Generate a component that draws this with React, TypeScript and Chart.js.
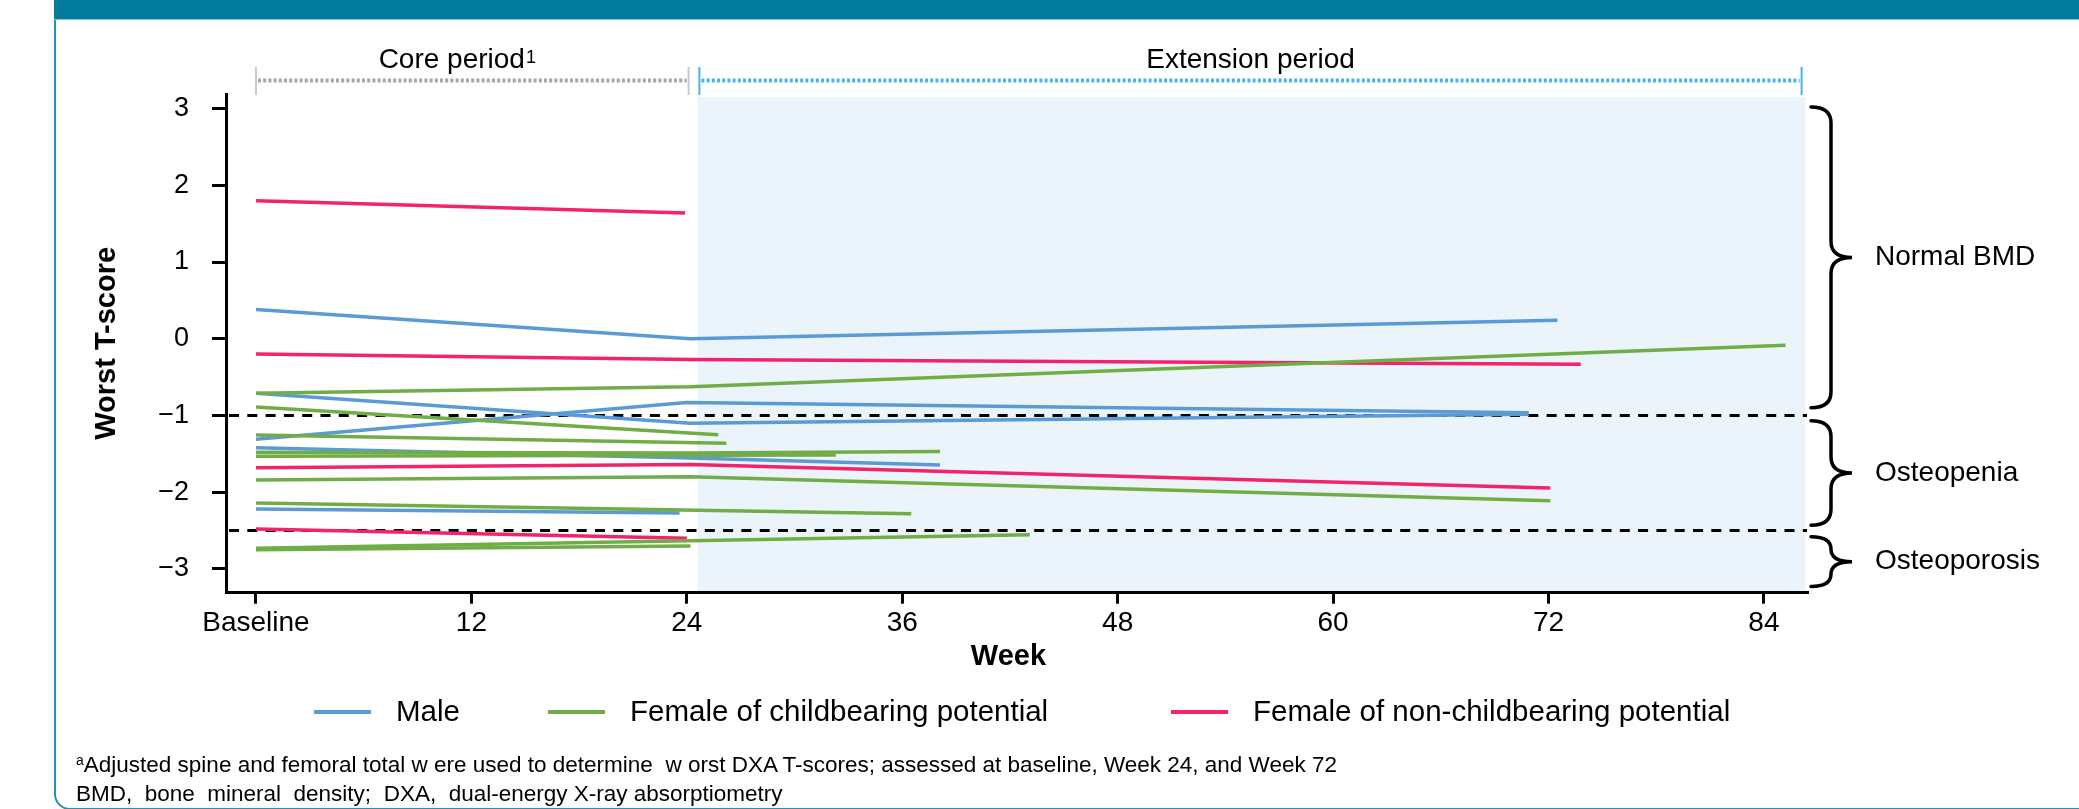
import React, { useEffect, useRef } from 'react';
import { Chart, registerables } from 'chart.js';

Chart.register(...registerables);

// ---------- data ----------
const groupLabels = ['Male', 'Female of childbearing potential', 'Female of non-childbearing potential'];
const groupColors = ['#5B9BD5', '#70AD47', '#F2236A'];

const maleWeeks = [[0, 24.2, 72.5], [0, 24.2, 70.9], [0, 24.0, 70.9], [0, 24.2, 38.1], [0, 23.6]];
const maleScores = [[0.38, 0.0, 0.24], [-0.71, -1.1, -0.985], [-1.31, -0.83, -0.965], [-1.42, -1.555, -1.645], [-2.22, -2.27]];

const childbearingWeeks = [
  [0, 24.2, 85.2], [0, 25.75], [0, 26.2], [0, 24.2, 38.1], [0, 32.3],
  [0, 24.2, 72.1], [0, 36.5], [0, 24.2], [0, 24.2, 43.1],
];
const childbearingScores = [
  [-0.71, -0.625, -0.085], [-0.89, -1.25], [-1.254, -1.363], [-1.48, -1.49, -1.47], [-1.53, -1.515],
  [-1.84, -1.8, -2.113], [-2.14, -2.28], [-2.75, -2.7], [-2.73, -2.634, -2.556],
];

const nonChildbearingWeeks = [[0, 23.9], [0, 24.2, 73.8], [0, 24.2, 72.1], [0, 24.0]];
const nonChildbearingScores = [[1.8, 1.64], [-0.2, -0.27, -0.333], [-1.68, -1.64, -1.944], [-2.48, -2.6]];

const xTickValues = [0, 12, 24, 36, 48, 60, 72, 84];
const xTickLabels = ['Baseline', '12', '24', '36', '48', '60', '72', '84'];
const yTickValues = [-3, -2, -1, 0, 1, 2, 3];
const yTickLabels = ['\u22123', '\u22122', '\u22121', '0', '1', '2', '3'];

const thresholds = [-1, -2.5];
const periodLabels = ['Core period', 'Extension period'];
const periodStarts = [0, 24.7];
const periodEnds = [24.1, 86.1];
const extensionShadeWeeks = [24.6, 86.3];
const extensionShadeTop = 3.15;
const categoryLabels = ['Normal BMD', 'Osteopenia', 'Osteoporosis'];
const categoryTops = [3.02, -1.07, -2.58];
const categoryBottoms = [-0.9, -2.43, -3.23];

const FONT = '"Liberation Sans", Arial, sans-serif';

function drawBrace(ctx: CanvasRenderingContext2D, x0: number, xs: number, xt: number, top: number, bot: number) {
  const mid = (top + bot) / 2;
  const r = Math.min(16, (bot - top) / 4);
  ctx.beginPath();
  ctx.moveTo(x0, top);
  ctx.quadraticCurveTo(xs, top, xs, top + r);
  ctx.lineTo(xs, mid - r);
  ctx.quadraticCurveTo(xs, mid, xt, mid);
  ctx.quadraticCurveTo(xs, mid, xs, mid + r);
  ctx.lineTo(xs, bot - r);
  ctx.quadraticCurveTo(xs, bot, x0, bot);
  ctx.stroke();
}

const annotations = {
  id: 'annotations',
  beforeDraw(chart: any) {
    const { ctx, chartArea, scales } = chart;
    const x = scales.x, y = scales.y;
    ctx.save();
    ctx.fillStyle = '#EBF4FA';
    const x0 = x.getPixelForValue(extensionShadeWeeks[0]);
    const x1 = x.getPixelForValue(extensionShadeWeeks[1]);
    const y0 = y.getPixelForValue(extensionShadeTop);
    ctx.fillRect(x0, y0, x1 - x0, chartArea.bottom - y0);
    ctx.restore();
  },
  beforeDatasetsDraw(chart: any) {
    const { ctx, chartArea, scales } = chart;
    const y = scales.y;
    ctx.save();
    ctx.strokeStyle = '#000';
    ctx.lineWidth = 3;
    ctx.setLineDash([10, 8.3]);
    thresholds.forEach((t) => {
      const py = y.getPixelForValue(t);
      ctx.beginPath();
      ctx.moveTo(chartArea.left + 3, py);
      ctx.lineTo(chartArea.right, py);
      ctx.stroke();
    });
    ctx.restore();
  },
  afterDatasetsDraw(chart: any) {
    const { ctx, chartArea, scales } = chart;
    const x = scales.x, y = scales.y;
    ctx.save();
    // period bars
    const lineY = chartArea.top - 13.5;
    const tickTop = chartArea.top - 27;
    const tickBot = chartArea.top + 1;
    const dotColors = ['#A6A6A6', '#4BB4E6'];
    const tickColors = ['#C3CAD8', '#4BB4E6'];
    periodLabels.forEach((lab, i) => {
      const xs = x.getPixelForValue(periodStarts[i]);
      const xe = x.getPixelForValue(periodEnds[i]);
      ctx.setLineDash([]);
      ctx.strokeStyle = tickColors[i];
      ctx.lineWidth = 2;
      ctx.beginPath();
      ctx.moveTo(xs, tickTop); ctx.lineTo(xs, tickBot);
      ctx.moveTo(xe, tickTop); ctx.lineTo(xe, tickBot);
      ctx.stroke();
      ctx.strokeStyle = dotColors[i];
      ctx.lineWidth = 4;
      ctx.setLineDash([3, 2.2]);
      ctx.beginPath();
      ctx.moveTo(xs + 2, lineY); ctx.lineTo(xe - 2, lineY);
      ctx.stroke();
      ctx.setLineDash([]);
      ctx.fillStyle = '#000';
      ctx.textBaseline = 'alphabetic';
      ctx.font = `28px ${FONT}`;
      const w = ctx.measureText(lab).width;
      const mid = (xs + xe) / 2;
      if (i === 0) {
        ctx.font = `18px ${FONT}`;
        const sw = ctx.measureText('1').width + 1;
        const start = mid - 15 - (w + sw) / 2;
        ctx.font = `28px ${FONT}`;
        ctx.textAlign = 'left';
        ctx.fillText(lab, start, chartArea.top - 26);
        ctx.font = `18px ${FONT}`;
        ctx.fillText('1', start + w + 1, chartArea.top - 31);
      } else {
        ctx.textAlign = 'center';
        ctx.fillText(lab, mid, chartArea.top - 26);
      }
    });
    // braces
    ctx.strokeStyle = '#000';
    ctx.lineWidth = 3.5;
    ctx.lineCap = 'round';
    categoryLabels.forEach((lab, i) => {
      const top = y.getPixelForValue(categoryTops[i]);
      const bot = y.getPixelForValue(categoryBottoms[i]);
      drawBrace(ctx, chartArea.right + 4, chartArea.right + 24, chartArea.right + 45, top, bot);
      ctx.fillStyle = '#000';
      ctx.font = `28px ${FONT}`;
      ctx.textAlign = 'left';
      ctx.textBaseline = 'middle';
      ctx.fillText(lab, chartArea.right + 68, (top + bot) / 2);
    });
    // legend
    const legendY = 712;
    const legendX = [314, 548, 1171];
    ctx.lineCap = 'butt';
    groupLabels.forEach((lab, i) => {
      ctx.strokeStyle = groupColors[i];
      ctx.lineWidth = 4;
      ctx.beginPath();
      ctx.moveTo(legendX[i], legendY);
      ctx.lineTo(legendX[i] + 57, legendY);
      ctx.stroke();
      ctx.fillStyle = '#000';
      ctx.font = `29.5px ${FONT}`;
      ctx.textAlign = 'left';
      ctx.textBaseline = 'middle';
      ctx.fillText(lab, legendX[i] + 82, legendY + 1);
    });
    ctx.restore();
  },
};

export default function App() {
  const canvasRef = useRef<HTMLCanvasElement | null>(null);

  useEffect(() => {
    if (!canvasRef.current) return;
    const groups = [
      { weeks: maleWeeks, scores: maleScores, order: 2 },
      { weeks: childbearingWeeks, scores: childbearingScores, order: 0 },
      { weeks: nonChildbearingWeeks, scores: nonChildbearingScores, order: 1 },
    ];
    const datasets: any[] = [];
    groups.forEach((g, gi) => {
      g.weeks.forEach((w, i) => {
        datasets.push({
          label: groupLabels[gi],
          data: w.map((wk, j) => ({ x: wk, y: g.scores[i][j] })),
          borderColor: groupColors[gi],
          backgroundColor: groupColors[gi],
          borderWidth: 3.5,
          pointRadius: 0,
          pointHoverRadius: 0,
          fill: false,
          tension: 0,
          order: g.order,
        });
      });
    });

    const padLeft = 60;
    const chart = new Chart(canvasRef.current, {
      type: 'line',
      data: { datasets },
      plugins: [annotations],
      options: {
        responsive: false,
        animation: false,
        devicePixelRatio: 1,
        layout: { padding: { left: padLeft, right: 272, top: 94, bottom: 129 } },
        plugins: { legend: { display: false }, tooltip: { enabled: false }, title: { display: false } },
        scales: {
          x: {
            type: 'linear',
            position: 'bottom',
            min: -1.67,
            max: 86.4,
            afterBuildTicks: (s: any) => { s.ticks = xTickValues.map((v) => ({ value: v })); },
            afterFit: (s: any) => { s.height = 87.3; },
            ticks: {
              autoSkip: false,
              maxRotation: 0,
              padding: 3,
              color: '#000',
              font: { family: FONT, size: 28 },
              callback: (_v: any, i: number) => xTickLabels[i],
            },
            grid: { drawOnChartArea: false, drawTicks: true, tickLength: 11, color: '#000', lineWidth: 3 },
            border: { display: true, color: '#000', width: 3 },
            title: { display: true, text: 'Week  ', color: '#000', font: { family: FONT, size: 29, weight: 'bold' }, padding: { top: 0, bottom: 6 } },
          },
          y: {
            type: 'linear',
            min: -3.31,
            max: 3.19,
            afterBuildTicks: (s: any) => { s.ticks = yTickValues.map((v) => ({ value: v })); },
            afterFit: (s: any) => { s.width = 226 - padLeft; },
            ticks: {
              padding: 23,
              color: '#000',
              font: { family: FONT, size: 27 },
              callback: (_v: any, i: number) => yTickLabels[i],
            },
            grid: { drawOnChartArea: false, drawTicks: true, tickLength: 14, color: '#000', lineWidth: 3 },
            border: { display: true, color: '#000', width: 3 },
            title: { display: true, text: 'Worst T-score', color: '#000', font: { family: FONT, size: 29, weight: 'bold' }, padding: { top: 30, bottom: 0 } },
          },
        },
      } as any,
    });
    return () => chart.destroy();
  }, []);

  return (
    <div style={{ position: 'absolute', left: 0, top: 0, width: 2079, height: 809, overflow: 'hidden', background: '#fff' }}>
      <div style={{ position: 'absolute', left: 54, top: -20, width: 2200, height: 830, border: '2px solid #2A8FB6', borderRadius: 16, boxSizing: 'border-box' }} />
      <div style={{ position: 'absolute', left: 54, top: 0, width: 2100, height: 19, background: '#017A9D', borderBottom: '1px solid #86C8DF' }} />
      <canvas ref={canvasRef} width={2079} height={809} style={{ position: 'absolute', left: 0, top: 0, width: 2079, height: 809 }} />
      <div style={{ position: 'absolute', left: 76, top: 752, font: `22.5px ${FONT}`, lineHeight: '26.7px', color: '#000', whiteSpace: 'pre' }}>
        <div><span style={{ fontSize: 14, position: 'relative', top: -7 }}>a</span>Adjusted spine and femoral total w ere used to determine  w orst DXA T-scores; assessed at baseline, Week 24, and Week 72</div>
        <div>BMD,  bone  mineral  density;  DXA,  dual-energy X-ray absorptiometry</div>
      </div>
    </div>
  );
}
